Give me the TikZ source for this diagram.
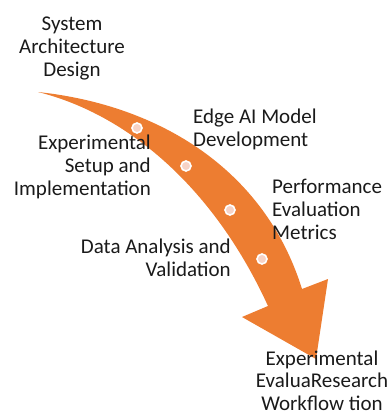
\documentclass[tikz,border=0pt]{standalone}
\usepackage{fontspec}
\setmainfont{Carlito}
\definecolor{arroworange}{HTML}{ED7D31}
\definecolor{dotpink}{HTML}{F7D3C6}
\definecolor{txt}{HTML}{1A1A1A}
\begin{document}
\begin{tikzpicture}[x=1pt,y=-1pt,
  lbl/.style={inner sep=0pt,text=txt,font=\fontsize{21}{23}\selectfont},
  dotmark/.style={circle,fill=dotpink,draw=white,line width=1.6pt,minimum size=10pt,inner sep=0pt}]
\useasboundingbox (0,0) rectangle (390,416);
% curved arrow
\fill[arroworange] (38,92) .. controls (160,105) and (265,170) .. (302,289)
  -- (328,279) -- (316,359) -- (242,317) -- (268,306)
  .. controls (215,190) and (130,115) .. (38,92) -- cycle;
% dots
\node[dotmark] (d1) at (137,128) {};
\node[dotmark] (d2) at (186,166) {};
\node[dotmark] (d3) at (230,210) {};
\node[dotmark] (d4) at (262,259) {};
% labels (anchor at baseline of last line)
\node[lbl,align=center,anchor=base] (t1) at (72,76) {System\\Architecture\\Design};
\node[lbl,align=left,anchor=base west] (t2) at (193,146) {Edge AI Model\\Development};
\node[lbl,align=right,anchor=base east] (t3) at (151,195) {Experimental\\Setup and\\Implementation};
\node[lbl,align=left,anchor=base west] (t4) at (272,239) {Performance\\Evaluation\\Metrics};
\node[lbl,align=right,anchor=base east] (t5) at (231,276) {Data Analysis and\\Validation};
\node[lbl,align=center,anchor=base,font=\fontsize{21}{22.5}\selectfont] (t6) at (322,410) {Experimental\\EvaluaResearch\\Workflow tion};
\end{tikzpicture}
\end{document}
